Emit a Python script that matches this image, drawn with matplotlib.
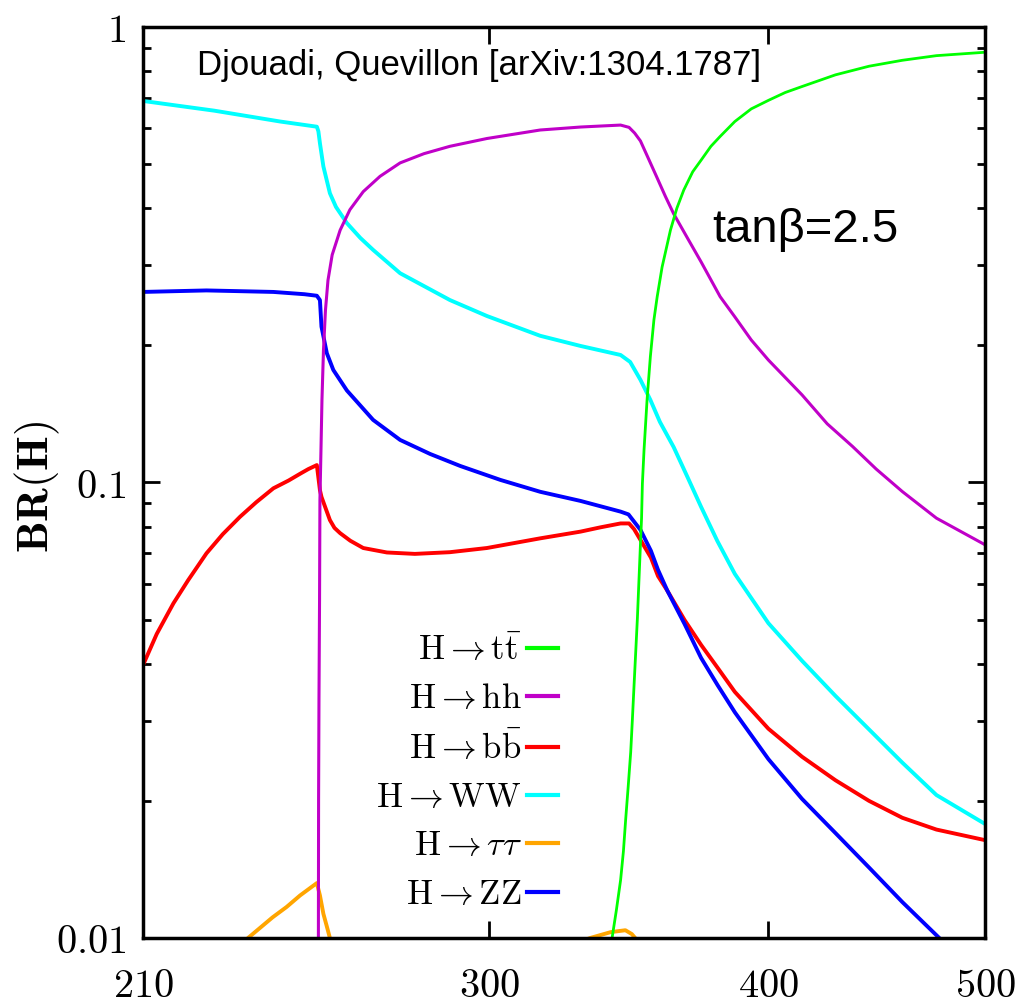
import matplotlib
matplotlib.use("Agg")
import matplotlib.pyplot as plt
from matplotlib.ticker import LogLocator, NullLocator, NullFormatter

plt.rcParams['mathtext.fontset'] = 'cm'

# --- data (M_H in GeV, branching ratios) ---
mass_tt = [338.0, 340.5, 342.0, 343.5, 344.5, 345.3, 346.2, 347.1, 347.7, 348.3, 348.9, 349.5, 350.0,
           350.5, 351.0, 351.3, 351.9, 353.0, 354.2, 355.5, 356.7, 358.5, 361.6, 364.0, 366.6, 370.0,
           373.2, 377.0, 380.6, 386.4, 393.0, 400.0, 407.0, 414.1, 428.6, 443.7, 459.2, 475.6, 500.0]
br_tt = [0.0080, 0.0100, 0.0115, 0.0134, 0.0155, 0.0182, 0.0215, 0.0256, 0.0302, 0.0359, 0.0425, 0.0504,
         0.0598, 0.0708, 0.0835, 0.0994, 0.118, 0.152, 0.189, 0.2275, 0.2558, 0.297, 0.358, 0.40, 0.4385,
         0.481, 0.51, 0.547, 0.575, 0.62, 0.661, 0.69, 0.718, 0.74, 0.785, 0.82, 0.845, 0.865, 0.88]

mass_hh = [251.55, 251.6, 251.65, 251.75, 251.9, 252.0, 252.27, 252.53, 252.92, 253.44, 254.1, 255.2,
           257.3, 259.9, 263.5, 268.1, 273.7, 280.5, 288.1, 299.3, 316.2, 329.6, 336.4, 343.5,
           346.5, 348.5, 350.6, 353.5, 356.7, 359.7, 362.8, 368.0, 373.2, 380.6, 386.4, 393.0,
           400.0, 414.1, 425.0, 436.2, 447.0, 459.2, 475.6, 500.0]
br_hh = [0.006, 0.0100, 0.0201, 0.0333, 0.0552, 0.0916, 0.118, 0.152, 0.195, 0.239, 0.278, 0.316,
         0.358, 0.397, 0.435, 0.47, 0.503, 0.527, 0.547, 0.569, 0.594, 0.603, 0.606, 0.609,
         0.602, 0.585, 0.562, 0.514, 0.466, 0.425, 0.389, 0.344, 0.305, 0.2558, 0.231, 0.2055,
         0.1857, 0.1557, 0.1345, 0.120, 0.107, 0.0955, 0.0835, 0.073]

mass_bb = [210.0, 213.0, 216.7, 220.0, 224.2, 228.0, 232.1, 236.0, 240.2, 244.0, 246.9, 249.0,
           251.2, 252.0, 252.4, 254.6, 255.8, 257.3, 260.0, 263.5, 270.0, 277.9, 288.1, 299.3,
           316.2, 329.6, 336.4, 343.5, 346.5, 348.3, 350.6, 354.4, 357.0, 360.5, 366.9, 373.2,
           379.6, 386.4, 400.0, 414.1, 428.6, 443.7, 459.2, 475.6, 500.0]
br_bb = [0.0397, 0.0465, 0.0543, 0.061, 0.0699, 0.077, 0.0841, 0.0905, 0.0971, 0.101, 0.1045, 0.107,
         0.1092, 0.0962, 0.093, 0.0827, 0.0795, 0.0774, 0.0745, 0.0718, 0.0702, 0.0697, 0.0703, 0.0718,
         0.0754, 0.078, 0.0797, 0.0813, 0.0813, 0.079, 0.0748, 0.0684, 0.0623, 0.0578, 0.0499, 0.044,
         0.0392, 0.0347, 0.0288, 0.0250, 0.0222, 0.0200, 0.01836, 0.0173, 0.0164]

mass_ww = [210.0, 226.0, 241.9, 251.2, 251.6, 252.0, 252.9, 254.6, 256.2, 259.1, 262.7, 266.2,
           273.7, 288.1, 299.3, 316.2, 329.6, 343.5, 346.9, 350.6, 354.2, 357.7, 362.8, 368.0,
           373.2, 379.5, 386.4, 400.0, 414.1, 428.6, 443.7, 459.2, 475.6, 500.0]
br_ww = [0.688, 0.655, 0.62, 0.604, 0.59, 0.5556, 0.494, 0.4315, 0.4026, 0.371, 0.3443, 0.324,
         0.288, 0.2515, 0.232, 0.2099, 0.1994, 0.1905, 0.1839, 0.168, 0.1518, 0.1358, 0.1196, 0.1028,
         0.0884, 0.0744, 0.063, 0.0491, 0.0406, 0.0340, 0.0287, 0.02426, 0.0206, 0.0178]

mass_tau = [225.0, 234.0, 240.0, 243.5, 246.9, 251.2, 252.0, 252.9, 253.8, 254.6, 257.3, 265.0,
            280.0, 300.0, 320.0, 332.9, 340.0, 345.2, 347.5, 348.7, 352.0, 360.0]
br_tau = [0.0080, 0.0100, 0.0111, 0.0117, 0.0124, 0.0132, 0.0124, 0.0113, 0.0106, 0.0100, 0.0093, 0.0087,
          0.0084, 0.0087, 0.0093, 0.0100, 0.0103, 0.0104, 0.0102, 0.0100, 0.0090, 0.0075]

mass_zz = [210.0, 224.2, 240.2, 248.0, 251.2, 252.0, 252.4, 253.8, 255.5, 259.1, 266.2, 273.7,
           282.3, 291.2, 303.5, 316.2, 329.6, 343.5, 346.3, 350.6, 354.4, 357.0, 360.5, 366.9,
           373.2, 379.6, 386.4, 400.0, 414.1, 428.6, 443.7, 459.2, 477.0, 500.0]
br_zz = [0.262, 0.264, 0.262, 0.259, 0.257, 0.2514, 0.2198, 0.1922, 0.1766, 0.1592, 0.1372, 0.124,
         0.1155, 0.1087, 0.1013, 0.0954, 0.0911, 0.0863, 0.0851, 0.0787, 0.0708, 0.0643, 0.0578, 0.0489,
         0.0412, 0.0359, 0.0313, 0.0247, 0.0202, 0.0170, 0.01428, 0.01199, 0.0100, 0.0079]

labels = [r'$\mathrm{H} \rightarrow \mathrm{t\bar{t}}$',
          r'$\mathrm{H} \rightarrow \mathrm{hh}$',
          r'$\mathrm{H} \rightarrow \mathrm{b\bar{b}}$',
          r'$\mathrm{H} \rightarrow \mathrm{WW}$',
          r'$\mathrm{H} \rightarrow \tau\tau$',
          r'$\mathrm{H} \rightarrow \mathrm{ZZ}$']
xticks = [210, 300, 400, 500]
yticks = [0.01, 0.1, 1]

fig = plt.figure(figsize=(10.3, 10.06), dpi=100)
ax = fig.add_axes([0.1388, 0.0676, 0.8175, 0.9056])

l_tau, = ax.plot(mass_tau, br_tau, color='#ffa500', lw=2.8)
l_bb, = ax.plot(mass_bb, br_bb, color='#ff0000', lw=2.8)
l_zz, = ax.plot(mass_zz, br_zz, color='#0000ff', lw=2.8)
l_ww, = ax.plot(mass_ww, br_ww, color='#00ffff', lw=2.8)
l_hh, = ax.plot(mass_hh, br_hh, color='#c000c8', lw=2.2)
l_tt, = ax.plot(mass_tt, br_tt, color='#00ff00', lw=2.0)

ax.set_xscale('log')
ax.set_yscale('log')
ax.set_xlim(210, 500)
ax.set_ylim(0.01, 1)
ax.set_xticks(xticks, labels=['$%d$' % t for t in xticks])
ax.xaxis.set_minor_locator(NullLocator())
ax.set_yticks(yticks, labels=['$0.01$', '$0.1$', '$1$'])
ax.yaxis.set_minor_locator(LogLocator(base=10, subs=range(2, 10)))
ax.yaxis.set_minor_formatter(NullFormatter())

ax.tick_params(which='both', direction='in', top=True, right=True, width=2)
ax.tick_params(axis='x', which='major', length=12, labelsize=29, pad=20)
ax.tick_params(axis='y', which='major', length=12, labelsize=29, pad=12)
ax.tick_params(axis='y', which='minor', length=6)
for s in ax.spines.values():
    s.set_linewidth(2.5)

leg = ax.legend([l_tt, l_hh, l_bb, l_ww, l_tau, l_zz], labels, loc='lower right',
                bbox_to_anchor=(0.493, 0.03), frameon=False, markerfirst=False, fontsize=25,
                handlelength=0.9, handletextpad=0.15, labelspacing=0.41, borderpad=0, borderaxespad=0)
for h in leg.legend_handles:
    h.set_linewidth(3.0)

ax.text(0.064, 0.958, 'Djouadi, Quevillon [arXiv:1304.1787]', transform=ax.transAxes,
        fontsize=25, family='Liberation Sans', va='center')
ax.text(0.676, 0.777, 'tanβ=2.5', transform=ax.transAxes,
        fontsize=34, family='Liberation Sans', va='center')
fig.text(0.036, 0.516, r'$\mathbf{BR(H)}$', rotation=90, fontsize=32, ha='center', va='center')

fig.savefig('out.png', dpi=100)
